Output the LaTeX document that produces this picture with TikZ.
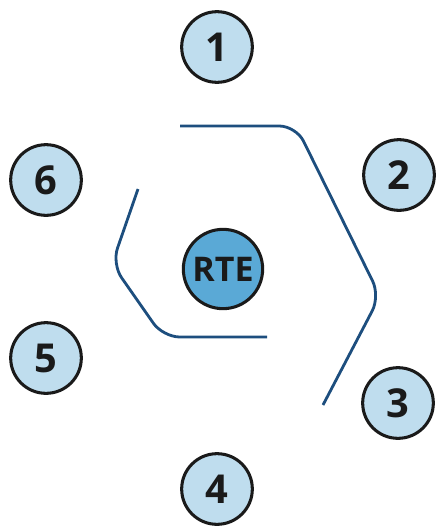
\documentclass[tikz,border=0pt]{standalone}
\usepackage{fontspec}
\setsansfont{Open Sans}
\usepackage{tikz}
\usetikzlibrary{positioning}
\definecolor{ringfill}{HTML}{BFDDEE}
\definecolor{rtefill}{HTML}{5AA9D6}
\definecolor{ringline}{HTML}{1D4E7E}
\definecolor{ink}{HTML}{1A1A1A}

\begin{document}
\begin{tikzpicture}[
  x=0.03cm,
  y=-0.03cm,
  stop/.style={circle, draw=ink, fill=ringfill, line width=2.6pt, minimum size=2.12cm, inner sep=0pt, text=ink, font=\sffamily\bfseries\fontsize{34}{36}\selectfont},
  hub/.style={circle, draw=ink, fill=rtefill, line width=2.6pt, minimum size=2.38cm, inner sep=0pt, text=ink, font=\sffamily\bfseries\fontsize{29}{31}\selectfont},
  guide/.style={draw=ringline, line width=2.4pt, rounded corners=0.5cm}
]
\useasboundingbox (0,0) rectangle (439,527);
\node[hub] (rte) at (223,269) {RTE};
\node[stop] (s1) at (217,47) {1};
\node[stop] (s2) at (399,175) {2};
\node[stop] (s3) at (398,403) {3};
\node[stop] (s4) at (217,489) {4};
\node[stop] (s5) at (46,358) {5};
\node[stop] (s6) at (46,180) {6};
% outer and inner guide rails
\draw[guide] (180,126) -- (296,126) -- (380,296) -- (323,405);
\draw[guide] (138,189) -- (112,264) -- (163,337) -- (267,337);
\end{tikzpicture}
\end{document}
